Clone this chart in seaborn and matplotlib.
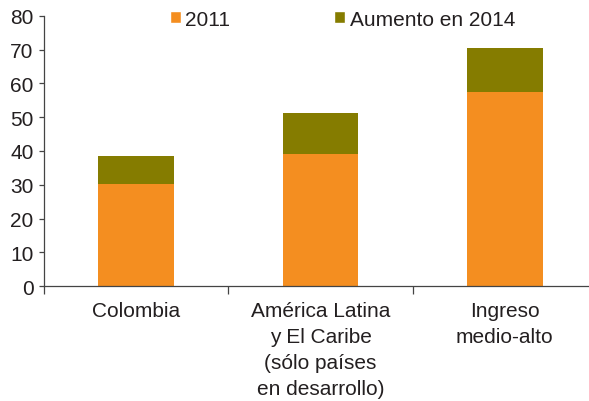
import matplotlib
matplotlib.use("Agg")
import matplotlib.pyplot as plt
from matplotlib.patches import Patch
import seaborn as sns
import pandas as pd
import numpy as np

# Data
categorias = ["Colombia",
              "América Latina\ny El Caribe\n(sólo países\nen desarrollo)",
              "Ingreso\nmedio-alto"]
valores_2011 = [30.2, 39.1, 57.4]
aumento_2014 = [8.3, 12.1, 13.0]
y_ticks = [0, 10, 20, 30, 40, 50, 60, 70, 80]

color_2011 = "#F48E20"
color_aumento = "#857C00"
text_color = "#231F20"
fs = 15

sns.set_theme(style="white")
plt.rcParams["font.family"] = ["Liberation Sans", "DejaVu Sans"]
plt.rcParams["text.color"] = text_color

df = pd.DataFrame({
    "categoria": categorias,
    "v2011": valores_2011,
    "aumento": aumento_2014,
})
df["total"] = df["v2011"] + df["aumento"]

fig = plt.figure(figsize=(5.89, 4.02), dpi=100)
ax = fig.add_axes([44 / 589, 114.7 / 402, 553 / 589, 270.6 / 402])

# Stacked bars: total (olive) behind, 2011 (orange) in front
sns.barplot(data=df, x="categoria", y="total", color=color_aumento,
            width=0.41, saturation=1, ax=ax, linewidth=0)
sns.barplot(data=df, x="categoria", y="v2011", color=color_2011,
            width=0.41, saturation=1, ax=ax, linewidth=0)

ax.set_xlim(-0.5, 2.5)
ax.set_ylim(0, 80)
ax.set_yticks(y_ticks)
ax.set_yticklabels([str(v) for v in y_ticks])
ax.set_xlabel("")
ax.set_ylabel("")

# Boundary ticks (major) and centred labels (minor)
ax.set_xticks([-0.5, 0.5, 1.5, 2.5])
ax.set_xticklabels([])
ax.set_xticks([0, 1, 2], minor=True)
ax.set_xticklabels(categorias, minor=True, fontsize=fs, color=text_color,
                   linespacing=1.48, va="top")
ax.tick_params(axis="x", which="major", direction="out", length=5.5,
               width=0.9, color="#444444", bottom=True)
ax.tick_params(axis="x", which="minor", length=0, pad=10.5, bottom=True)
ax.tick_params(axis="y", direction="out", length=3.5, width=0.9,
               color="#444444", pad=4, labelsize=fs, labelcolor=text_color,
               left=True)

for s in ["top", "right"]:
    ax.spines[s].set_visible(False)
for s in ["left", "bottom"]:
    ax.spines[s].set_color("#444444")
    ax.spines[s].set_linewidth(0.9)

handles = [Patch(facecolor=color_2011, label="2011"),
           Patch(facecolor=color_aumento, label="Aumento en 2014")]
fig.legend(handles=handles, loc="center left",
           bbox_to_anchor=(170 / 589, 1 - 20 / 402), ncol=2, frameon=False,
           fontsize=fs, borderpad=0, borderaxespad=0, handlelength=0.53,
           handleheight=0.53, handletextpad=0.2, columnspacing=5.0)

fig.savefig("out.png", dpi=100)
